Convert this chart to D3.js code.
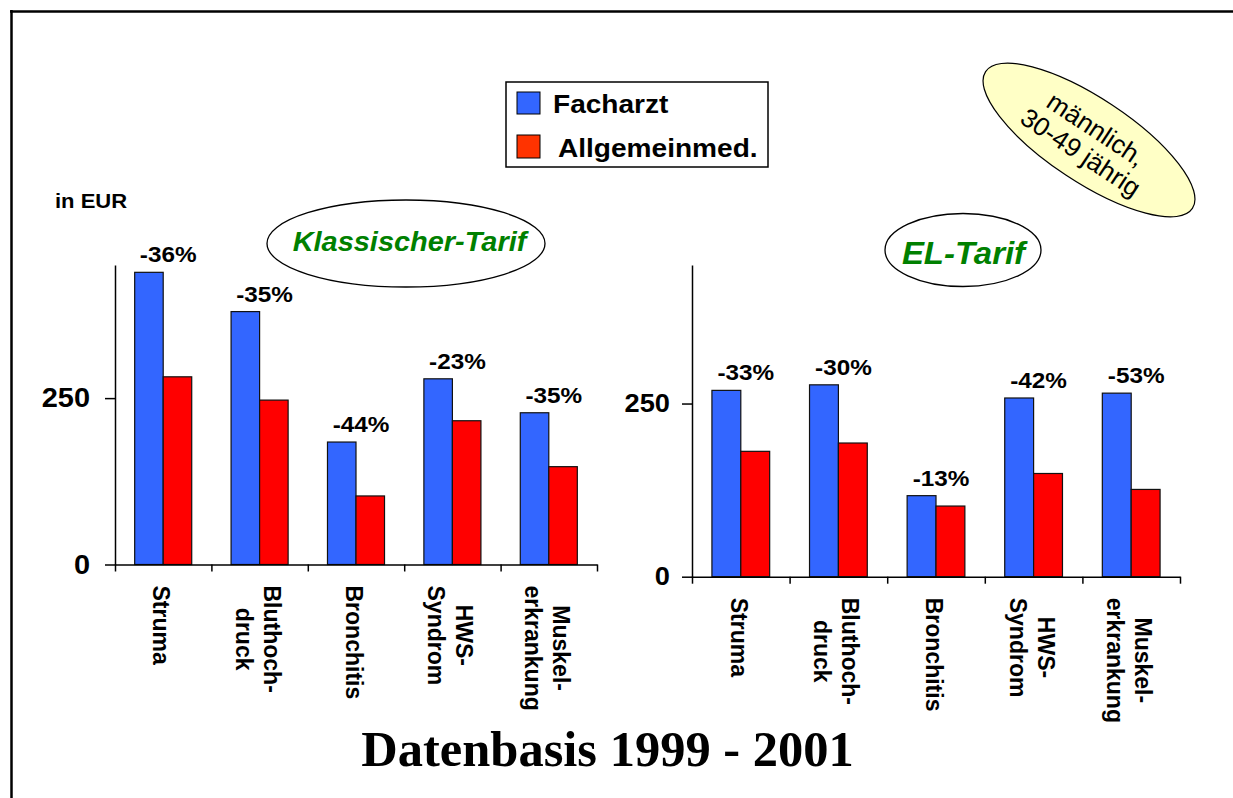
<!DOCTYPE html>
<html>
<head>
<meta charset="utf-8">
<script src="https://cdn.jsdelivr.net/npm/d3@7/dist/d3.min.js"></script>
<style>
  html, body { margin: 0; padding: 0; background: #fff; }
  svg { display: block; }
  text { font-family: "Liberation Sans", Arial, sans-serif; }
</style>
</head>
<body>
<svg id="chart" width="1233" height="798"></svg>
<script>
// ---------------- data ----------------
const categoryLines = [["Struma"], ["Bluthoch-", "druck"], ["Bronchitis"], ["HWS-", "Syndrom"], ["Muskel-", "erkrankung"]];
const categories = categoryLines.map(l => l.join(""));
const seriesNames = ["Facharzt", "Allgemeinmed."];
const klassFacharzt = [439, 380, 184, 279, 228];
const klassAllgemein = [282, 247, 103, 216, 147];
const klassPct = ["-36%", "-35%", "-44%", "-23%", "-35%"];
const elFacharzt = [269, 277, 117, 258, 265];
const elAllgemein = [181, 193, 102, 149, 126];
const elPct = ["-33%", "-30%", "-13%", "-42%", "-53%"];
const yTickValues = [0, 250];
const yMax = 450;
const unitLabel = "in EUR";
const title = "Datenbasis 1999 - 2001";
const tarifLabels = ["Klassischer-Tarif", "EL-Tarif"];
const noteLines = ["männlich,", "30-49 jährig"];

// ---------------- style ----------------
const SX = 1.08; // horizontal stretch of the slide text
const BLUE = "#3366FF", RED = "#FF0000", LEG_RED = "#FF3300", GREEN = "#008000";

const svg = d3.select("#chart");

function sText(parent, x, y, str, size, opts = {}) {
  return parent.append("text")
    .attr("transform", `translate(${x},${y}) scale(${opts.sx || SX},1)`)
    .attr("text-anchor", opts.anchor || "start")
    .attr("dominant-baseline", opts.baseline || "alphabetic")
    .style("font-size", size + "px")
    .style("font-weight", opts.weight || "bold")
    .style("font-style", opts.italic ? "italic" : "normal")
    .attr("fill", opts.fill || "#000")
    .text(str);
}

// frame
svg.append("line").attr("x1", 10).attr("x2", 1233).attr("y1", 11.5).attr("y2", 11.5)
  .attr("stroke", "#000").attr("stroke-width", 2.5);
svg.append("line").attr("x1", 11.5).attr("x2", 11.5).attr("y1", 10).attr("y2", 798)
  .attr("stroke", "#000").attr("stroke-width", 2.5);

// ---------------- panels ----------------
function panel(cfg) {
  const g = svg.append("g");
  const y = d3.scaleLinear().domain([0, yMax]).range([cfg.y0, cfg.yTop]);
  const x0 = d3.scaleBand().domain(categories).range([cfg.xL, cfg.xR]).padding(0);
  const x1 = d3.scaleBand().domain(seriesNames).range([0, x0.bandwidth()]).paddingInner(0).paddingOuter(0.69);
  const xi = d3.scaleLinear().domain([0, categories.length]).range([cfg.xL, cfg.xR]);

  // bars
  const rows = categories.map((c, i) => ({ c, i, vals: [cfg.fach[i], cfg.allg[i]] }));
  const grp = g.selectAll("g.cat").data(rows).join("g").attr("class", "cat")
    .attr("transform", d => `translate(${x0(d.c)},0)`);
  grp.selectAll("rect").data(d => d.vals.map((v, k) => ({ v, s: seriesNames[k], k })))
    .join("rect")
    .attr("x", d => x1(d.s))
    .attr("width", x1.bandwidth())
    .attr("y", d => y(d.v))
    .attr("height", d => y(0) - y(d.v))
    .attr("fill", d => d.k === 0 ? BLUE : RED)
    .attr("stroke", "#111").attr("stroke-width", 1.2);

  // y axis
  const ya = g.append("g").attr("transform", `translate(${cfg.xL},0)`)
    .call(d3.axisLeft(y).tickValues(yTickValues).tickSize(10).tickSizeOuter(0).tickFormat(""));
  ya.selectAll("path,line").attr("stroke", "#000").attr("stroke-width", 1.5);
  yTickValues.forEach(v => sText(g, cfg.xL - cfg.labGap, y(v), d3.format("d")(v), cfg.tickSize,
    { anchor: "end", baseline: "central" }));

  // x axis (category boundaries)
  const xa = g.append("g").attr("transform", `translate(0,${cfg.y0})`)
    .call(d3.axisBottom(xi).tickValues(d3.range(categories.length + 1)).tickSize(7).tickSizeOuter(0).tickFormat(""));
  xa.selectAll("path,line").attr("stroke", "#000").attr("stroke-width", 1.5);

  // percent labels
  rows.forEach(d => {
    sText(g, x0(d.c) + x0.bandwidth() / 2 + 5, y(cfg.fach[d.i]) - 10, cfg.pct[d.i], 22.5, { anchor: "middle" });
  });

  // category labels (rotated)
  rows.forEach(d => {
    const lines = categoryLines[d.i];
    const cx = x0(d.c) + x0.bandwidth() / 2;
    const lg = g.append("g").attr("transform", `translate(${cx},${cfg.y0 + 21}) rotate(90)`);
    const texts = lines.map((ln, j) => lg.append("text")
      .attr("y", 10 - ((lines.length - 1) / 2 - j) * 28)
      .style("font-size", "23px").style("font-weight", "bold")
      .attr("text-anchor", "middle").text(ln));
    const maxLen = d3.max(texts, t => t.node().getComputedTextLength());
    texts.forEach(t => t.attr("x", maxLen / 2));
  });
  return g;
}

panel({ xL: 115, xR: 597, y0: 564.5, yTop: 265, fach: klassFacharzt, allg: klassAllgemein, pct: klassPct, tickSize: 26.8, labGap: 25 });
panel({ xL: 692, xR: 1180, y0: 576.7, yTop: 265, fach: elFacharzt, allg: elAllgemein, pct: elPct, tickSize: 25.2, labGap: 22 });

// unit label
sText(svg, 55, 208, unitLabel, 20.4);

// legend
const leg = svg.append("g");
leg.append("rect").attr("x", 506).attr("y", 82).attr("width", 262).attr("height", 85)
  .attr("fill", "#fff").attr("stroke", "#000").attr("stroke-width", 1.5);
leg.append("rect").attr("x", 517).attr("y", 92).attr("width", 23).attr("height", 22)
  .attr("fill", BLUE).attr("stroke", "#000").attr("stroke-width", 1);
leg.append("rect").attr("x", 517).attr("y", 135).attr("width", 23).attr("height", 23)
  .attr("fill", LEG_RED).attr("stroke", "#000").attr("stroke-width", 1);
sText(leg, 553, 113, seriesNames[0], 26);
sText(leg, 558, 156.5, seriesNames[1], 26);

// tariff ellipses
svg.append("ellipse").attr("cx", 406).attr("cy", 243.5).attr("rx", 139).attr("ry", 43.5)
  .attr("fill", "#fff").attr("stroke", "#000").attr("stroke-width", 1.3);
sText(svg, 409.5, 251, tarifLabels[0], 26.8, { anchor: "middle", italic: true, fill: GREEN });
svg.append("ellipse").attr("cx", 963).attr("cy", 250).attr("rx", 78).attr("ry", 36.5)
  .attr("fill", "#fff").attr("stroke", "#000").attr("stroke-width", 1.3);
sText(svg, 963.5, 263.5, tarifLabels[1], 30.5, { anchor: "middle", italic: true, fill: GREEN });

// note ellipse
const note = svg.append("g").attr("transform", "translate(1089,140) rotate(33.5)");
note.append("ellipse").attr("rx", 124).attr("ry", 42)
  .attr("fill", "#FFFFC6").attr("stroke", "#000").attr("stroke-width", 1.2);
noteLines.forEach((ln, j) => note.append("text")
  .attr("x", 0).attr("y", -4 + j * 28)
  .attr("text-anchor", "middle")
  .style("font-size", "26px").text(ln));

// title
svg.append("text").attr("x", 607.5).attr("y", 766).attr("text-anchor", "middle")
  .style("font-family", "'Liberation Serif', 'Times New Roman', serif")
  .style("font-size", "50.5px").style("font-weight", "bold").text(title);
</script>
</body>
</html>
